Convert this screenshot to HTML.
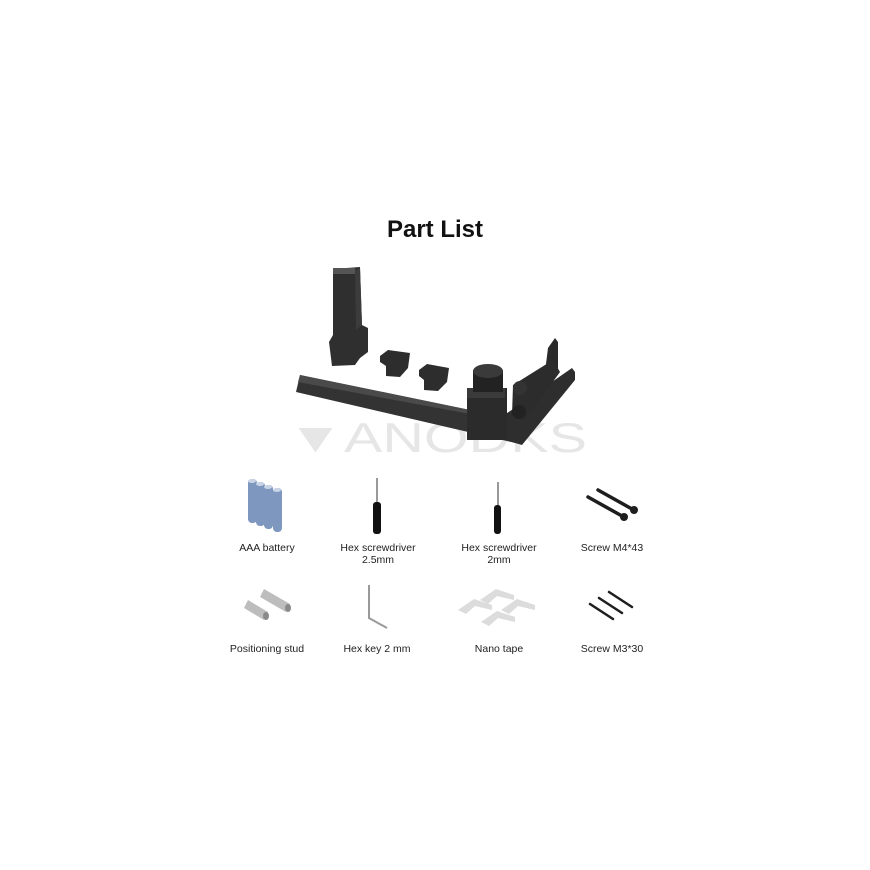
<!DOCTYPE html>
<html><head><style>
body{margin:0;background:#fff;}
svg{display:block}
text{font-family:"Liberation Sans",sans-serif;}
</style></head><body>
<svg width="870" height="870" viewBox="0 0 870 870">
<text x="435" y="237" text-anchor="middle" font-size="24" font-weight="bold" fill="#111">Part List</text>
<!-- watermark -->
<text x="437" y="452" text-anchor="middle" font-size="42" fill="#e6e6e6" textLength="300" lengthAdjust="spacingAndGlyphs">▼ANODKS</text>
<!-- tall block -->
<polygon points="333,269 360,267 362,325 368,328 368,352 360,358 355,365 332,366 329,342 333,335" fill="#2f2f2f"/>
<rect x="333" y="268" width="22" height="6" fill="#555"/>
<polygon points="355,270 360,268 362,325 356,330" fill="#3c3c3c"/>
<!-- small blocks -->
<polygon points="380,356 388,350 410,353 408,368 400,377 386,376 386,366 380,362" fill="#2d2d2d"/>
<polygon points="419,370 427,364 449,368 447,382 438,391 424,390 424,380 419,376" fill="#2d2d2d"/>
<!-- bar -->
<polygon points="300,375 470,410 520,422 520,444 296,392" fill="#333"/>
<polygon points="300,375 470,410 470,414 298,382" fill="#4a4a4a"/>
<!-- right plate -->
<polygon points="500,418 572,368 575,372 575,380 522,445 505,440" fill="#2e2e2e"/>
<!-- box and cylinder -->
<rect x="467" y="388" width="40" height="52" fill="#2b2b2b"/>
<rect x="467" y="388" width="38" height="10" fill="#3a3a3a"/>
<rect x="473" y="370" width="30" height="22" fill="#222"/>
<ellipse cx="488" cy="371" rx="15" ry="7" fill="#3a3a3a"/>
<!-- bracket & roller -->
<polygon points="548,348 555,338 558,342 558,372 545,372" fill="#2a2a2a"/>
<polygon points="513,385 553,360 560,372 525,420 512,415" fill="#2c2c2c"/>
<circle cx="520" cy="388" r="7" fill="#333"/>
<circle cx="519" cy="412" r="7" fill="#222"/>
<!-- AAA batteries -->
<g fill="#7d97bf">
<rect x="248" y="479" width="9" height="44" rx="4"/>
<rect x="256" y="482" width="9" height="44" rx="4"/>
<rect x="264" y="485" width="9" height="44" rx="4"/>
<rect x="273" y="488" width="9" height="44" rx="4"/>
</g>
<g fill="#c9d4e6"><ellipse cx="252" cy="481" rx="4" ry="2"/><ellipse cx="260" cy="484" rx="4" ry="2"/><ellipse cx="268" cy="487" rx="4" ry="2"/><ellipse cx="277" cy="490" rx="4" ry="2"/></g>
<!-- screwdrivers -->
<line x1="377" y1="478" x2="377" y2="504" stroke="#777" stroke-width="1.5"/>
<rect x="373" y="502" width="8" height="32" rx="3" fill="#111"/>
<line x1="498" y1="482" x2="498" y2="506" stroke="#777" stroke-width="1.5"/>
<rect x="494" y="505" width="7" height="29" rx="3" fill="#111"/>
<!-- screws M4 -->
<g stroke="#1e1e1e" stroke-width="3.5" stroke-linecap="round">
<line x1="588" y1="497" x2="622" y2="516"/>
<line x1="598" y1="490" x2="632" y2="509"/>
</g>
<g fill="#1e1e1e"><circle cx="624" cy="517" r="4"/><circle cx="634" cy="510" r="4"/></g>
<!-- positioning studs -->
<g fill="#bdbdbd"><polygon points="244,608 248,600 268,612 264,620"/><polygon points="260,597 264,589 290,604 286,612"/></g>
<g fill="#8a8a8a"><ellipse cx="266" cy="616" rx="3" ry="4"/><ellipse cx="288" cy="608" rx="3" ry="4"/></g>
<!-- hex key -->
<polyline points="369,585 369,618 387,628" fill="none" stroke="#999" stroke-width="2"/>
<!-- nano tape -->
<g fill="#dcdcdc">
<polygon points="480,600 496,589 514,595 514,600 497,596 488,604"/>
<polygon points="458,610 474,599 492,605 492,610 475,606 466,614"/>
<polygon points="501,610 517,599 535,605 535,610 518,606 509,614"/>
<polygon points="481,622 497,611 515,617 515,622 498,618 489,626"/>
</g>
<!-- screws M3 -->
<g stroke="#1e1e1e" stroke-width="2.5" stroke-linecap="round">
<line x1="590" y1="604" x2="613" y2="619"/>
<line x1="599" y1="598" x2="622" y2="613"/>
<line x1="609" y1="592" x2="632" y2="607"/>
</g>
<!-- labels -->
<g font-size="10.5" fill="#222" text-anchor="middle">
<text x="267" y="551">AAA battery</text>
<text x="378" y="551">Hex screwdriver</text>
<text x="378" y="563">2.5mm</text>
<text x="499" y="551">Hex screwdriver</text>
<text x="499" y="563">2mm</text>
<text x="612" y="551">Screw M4*43</text>
<text x="267" y="652">Positioning stud</text>
<text x="377" y="652">Hex key 2 mm</text>
<text x="499" y="652">Nano tape</text>
<text x="612" y="652">Screw M3*30</text>
</g>
</svg>
</body></html>
